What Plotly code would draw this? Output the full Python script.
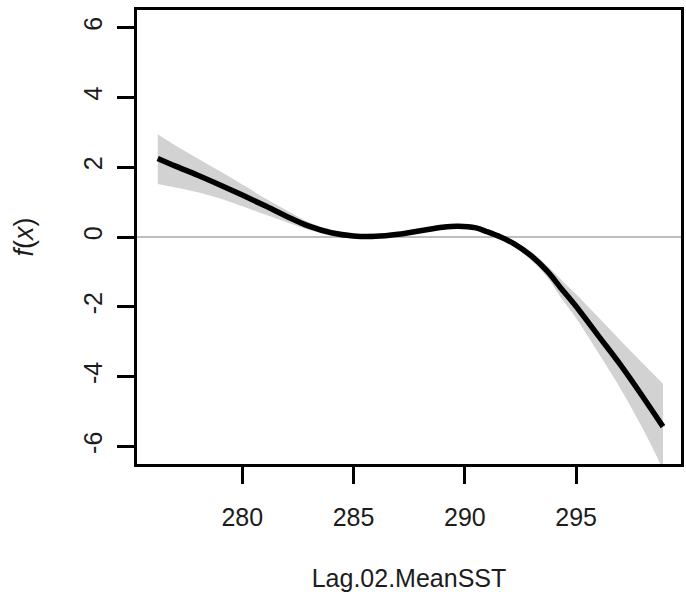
import plotly.graph_objects as go

# Smooth term for lagged mean sea-surface temperature with its confidence band
sst = [276.2, 277, 278, 279, 280, 281, 282, 283, 284, 285, 286, 287, 288, 289,
       289.7, 290.5, 291, 291.6, 292.2, 293, 293.7, 294.3, 295, 296, 297,
       298, 298.9]
fit = [2.25, 2.03, 1.77, 1.49, 1.20, 0.90, 0.59, 0.31, 0.12, 0.03, 0.02, 0.08,
       0.18, 0.28, 0.31, 0.26, 0.15, 0.0, -0.19, -0.55, -0.98, -1.45, -1.99,
       -2.83, -3.67, -4.58, -5.43]
upper = [2.94, 2.62, 2.25, 1.88, 1.50, 1.12, 0.76, 0.42, 0.19, 0.08, 0.07, 0.13,
         0.24, 0.35, 0.38, 0.33, 0.22, 0.07, -0.11, -0.43, -0.83, -1.20, -1.64,
         -2.30, -2.97, -3.62, -4.20]
lower = [1.52, 1.42, 1.28, 1.10, 0.88, 0.65, 0.42, 0.20, 0.05, -0.02, -0.03, 0.03,
         0.12, 0.21, 0.24, 0.19, 0.08, -0.07, -0.28, -0.68, -1.15, -1.72, -2.33,
         -3.32, -4.35, -5.50, -6.65]

x_ticks = [280, 285, 290, 295]
y_ticks = [-6, -4, -2, 0, 2, 4, 6]
y_tick_text = ["-6", "-4", "-2", "0", "2", "4", "6"]

FONT = "Liberation Sans, Arial, Helvetica, sans-serif"
TXT = "#1c1c1c"

fig = go.Figure()

# confidence band
fig.add_trace(go.Scatter(x=sst, y=lower, mode="lines",
                         line=dict(width=0, color="#d2d2d2", shape="spline"),
                         hoverinfo="skip", showlegend=False))
fig.add_trace(go.Scatter(x=sst, y=upper, mode="lines", fill="tonexty",
                         fillcolor="#d2d2d2",
                         line=dict(width=0, color="#d2d2d2", shape="spline"),
                         hoverinfo="skip", showlegend=False))
# fitted smooth
fig.add_trace(go.Scatter(x=sst, y=fit, mode="lines",
                         line=dict(width=5.5, color="black", shape="spline"),
                         showlegend=False))

fig.add_hline(y=0, line=dict(color="#bdbdbd", width=2), layer="below")

axis_common = dict(
    showline=True, linecolor="black", linewidth=2.5, mirror=True,
    showgrid=False, zeroline=False,
    ticks="outside", ticklen=17, tickwidth=2.5, tickcolor="black",
    tickfont=dict(family=FONT, size=25, color=TXT),
)

fig.update_xaxes(
    range=[275.27, 299.71], tickvals=x_ticks,
    ticklabelstandoff=12,
    title=dict(text="Lag.02.MeanSST", standoff=40,
               font=dict(family=FONT, size=25, color=TXT)),
    **axis_common,
)
fig.update_yaxes(
    range=[-6.5, 6.5], tickvals=y_ticks, ticktext=y_tick_text, tickangle=-90,
    ticklabelstandoff=5,
    **axis_common,
)

# y-axis label placed as rotated text left of the tick labels
fig.add_annotation(
    text="<i>f</i>(<i>x</i>)", textangle=-90,
    xref="paper", yref="paper", x=-0.207, y=0.5,
    xanchor="center", yanchor="middle", showarrow=False,
    font=dict(family=FONT, size=27, color=TXT),
)

fig.update_layout(
    width=686, height=600,
    margin=dict(l=137, r=2, t=10, b=136),
    paper_bgcolor="white", plot_bgcolor="white",
)

fig.write_html("out.html")
